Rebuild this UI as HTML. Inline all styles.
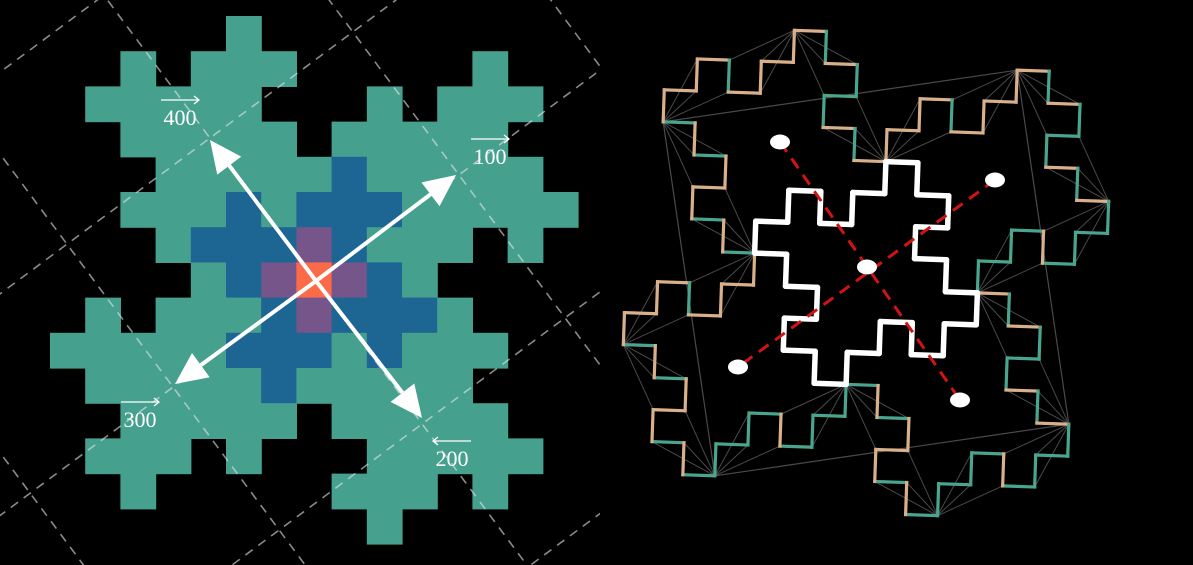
<!DOCTYPE html>
<html><head><meta charset="utf-8"><style>
html,body{margin:0;padding:0;background:#000;overflow:hidden;width:1193px;height:565px}
svg{display:block;overflow:hidden}
</style></head><body>
<svg id="root" width="1193" height="565" viewBox="0 0 1193 565" xmlns="http://www.w3.org/2000/svg">
<defs><clipPath id="lc"><rect x="0" y="0" width="600" height="565"/></clipPath>
<clipPath id="all"><rect x="0" y="0" width="1193" height="565"/></clipPath></defs>
<rect x="0" y="0" width="1193" height="565" fill="#000"/>
<g clip-path="url(#all)">
<g id="leftGrid"></g>
<g id="dash" clip-path="url(#lc)"></g>
<g id="arrows"></g>
<g id="labels" font-family="Liberation Serif, serif" font-size="22" fill="#fff" text-anchor="middle"></g>
<g id="right"></g>
</g>
</svg>
<script>
// top rows of the 15x15 grid (rest by 4-fold rotation)
const gridTopRows = [
".....T.........",
"..T.TTT.....T..",
".TTTTT...T.TTT.",
"..TTTTT.TTTTT..",
"...TTTTTBTTTTT.",
"..TTTBTBBBTTTTT",
"...TBBBPBTTT.T."
];
const centerCell = "O";
const arrowTips = [[456,175],[422,418],[175,384],[210,140]];
const labelTexts = ["100","200","300","400"];
const labelPos = [[490,164],[452,466],[140,427],[180,125]];
const dots = [[780,142],[995,180],[738,367],[960,400],[867,267]];

const NS="http://www.w3.org/2000/svg";
function mk(tag,attrs,parent){const e=document.createElementNS(NS,tag);for(const k in attrs)e.setAttribute(k,attrs[k]);parent.appendChild(e);return e;}

const N=15, G=[];
for(let r=0;r<N;r++){G.push(new Array(N).fill('.'));}
for(let r=0;r<7;r++)for(let c=0;c<N;c++){
  const v=gridTopRows[r][c]; if(v==='.')continue;
  let cc=c, rr=r;
  for(let k=0;k<4;k++){G[rr][cc]=v; const nc=14-rr, nr=cc; cc=nc; rr=nr;}
}
G[7][7]=centerCell;
const colors={T:"#46a08e",B:"#1d6592",P:"#75558a",O:"#fb6b4a"};
const lg=document.getElementById('leftGrid');
const X0=50,Y0=16,CS=35.2;
for(let r=0;r<N;r++)for(let c=0;c<N;c++){
  const v=G[r][c]; if(v==='.')continue;
  const e=mk('rect',{x:X0+c*CS,y:Y0+r*CS,width:CS+0.6,height:CS+0.6,fill:colors[v]},lg);
  
  
}
const C=[316,281], a=[-0.596,-0.803], b=[0.803,-0.596], S=178;
const dg=document.getElementById('dash');
for(let k=-4;k<=4;k++){
  for(const [d,o] of [[a,b],[b,a]]){
    const p=[C[0]+k*S*o[0],C[1]+k*S*o[1]];
    const e=mk('line',{x1:p[0]-700*d[0],y1:p[1]-700*d[1],x2:p[0]+700*d[0],y2:p[1]+700*d[1],stroke:"rgba(230,230,230,0.6)","stroke-width":1.6,"stroke-dasharray":"9 7"},dg);
    
    
  }
}
const ag=document.getElementById('arrows');
arrowTips.forEach(t=>{
  const dx=t[0]-C[0],dy=t[1]-C[1],L=Math.hypot(dx,dy),ux=dx/L,uy=dy/L;
  const hl=32,hw=15,bx=t[0]-ux*hl,by=t[1]-uy*hl;
  const ln=mk('line',{x1:C[0],y1:C[1],x2:bx,y2:by,stroke:"#fff","stroke-width":4},ag);
  
  
  const hd=mk('polygon',{points:`${t[0]},${t[1]} ${bx-uy*hw},${by+ux*hw} ${bx+uy*hw},${by-ux*hw}`,fill:"#fff"},ag);
  
  
});
const lbg=document.getElementById('labels');
labelTexts.forEach((t,i)=>{
  const [x,y]=labelPos[i];
  const tx=mk('text',{x:x,y:y},lbg); tx.textContent=t;
  
  
  const yy=y-25, left=(t==="200");
  const ar=mk('path',{d:`M${x-19},${yy} L${x+19},${yy} `+(left?`M${x-14},${yy-4} L${x-19},${yy} L${x-14},${yy+4}`:`M${x+14},${yy-4} L${x+19},${yy} L${x+14},${yy+4}`),stroke:"#fff","stroke-width":1.3,fill:"none"},lbg);
  
  
});
const rg=document.getElementById('right');
const RC=[866,273], RS=32, th=2*Math.PI/180, ct=Math.cos(th), st=Math.sin(th);
function T(gx,gy){const rx=(gx-7.5)*RS, ry=(gy-7.5)*RS;return [RC[0]+rx*ct-ry*st, RC[1]+rx*st+ry*ct];}
function inSet(r,c,f){return r>=0&&r<N&&c>=0&&c<N&&f(G[r][c]);}
function edges(f){
  const E=[];
  for(let r=0;r<N;r++)for(let c=0;c<N;c++){
    if(!f(G[r][c]))continue;
    if(!inSet(r-1,c,f))E.push([c,r,c+1,r]);
    if(!inSet(r+1,c,f))E.push([c,r+1,c+1,r+1]);
    if(!inSet(r,c-1,f))E.push([c,r,c,r+1]);
    if(!inSet(r,c+1,f))E.push([c+1,r,c+1,r+1]);
  }
  return E;
}
const outer=edges(v=>v!=='.');
const hubs=[[1,3],[12,1],[14,12],[3,14],[8,4],[11,8],[7,11],[4,7],[5,0],[15,5],[10,15],[0,10]];
const verts=new Set(); outer.forEach(e=>{verts.add(e[0]+','+e[1]);verts.add(e[2]+','+e[3]);});
verts.forEach(s=>{
  const [gx,gy]=s.split(',').map(Number);
  let best=null,bd=1e9; hubs.forEach(h=>{const d=Math.hypot(h[0]-gx,h[1]-gy); if(d<bd){bd=d;best=h;}});
  if(bd>0&&bd<3.6){const p=T(gx,gy),q=T(best[0],best[1]);
    const e=mk('line',{x1:p[0],y1:p[1],x2:q[0],y2:q[1],stroke:"#4a4a4a","stroke-width":1},rg);
    
    }
});
const sq=[[1,3],[12,1],[14,12],[3,14]].map(p=>T(p[0],p[1]).join(',')).join(' ');
const sqe=mk('polygon',{points:sq,fill:"none",stroke:"#4a4a4a","stroke-width":1.2},rg);


outer.forEach(e=>{
  const p=T(e[0],e[1]),q=T(e[2],e[3]);
  const col=((e[0]+e[1]+e[2]+e[3])%4<2)?"#4aa58f":"#d9b08a";
  const l=mk('line',{x1:p[0],y1:p[1],x2:q[0],y2:q[1],stroke:col,"stroke-width":3.2,"stroke-linecap":"square"},rg);
  
  
});
const inner=edges(v=>v==='B'||v==='P'||v==='O');
inner.forEach(e=>{
  const p=T(e[0],e[1]),q=T(e[2],e[3]);
  const l=mk('line',{x1:p[0],y1:p[1],x2:q[0],y2:q[1],stroke:"#fff","stroke-width":5.5,"stroke-linecap":"round"},rg);
  
  
});
[[0,3],[1,2]].forEach(pr=>{
  const p=dots[pr[0]],q=dots[pr[1]];
  const l=mk('line',{x1:p[0],y1:p[1],x2:q[0],y2:q[1],stroke:"#d01414","stroke-width":3,"stroke-dasharray":"12 8"},rg);
  
  
});
dots.forEach(d=>{
  const e=mk('ellipse',{cx:d[0],cy:d[1],rx:10,ry:7.5,fill:"#fff"},rg);
  
  
});
</script>
</body></html>
